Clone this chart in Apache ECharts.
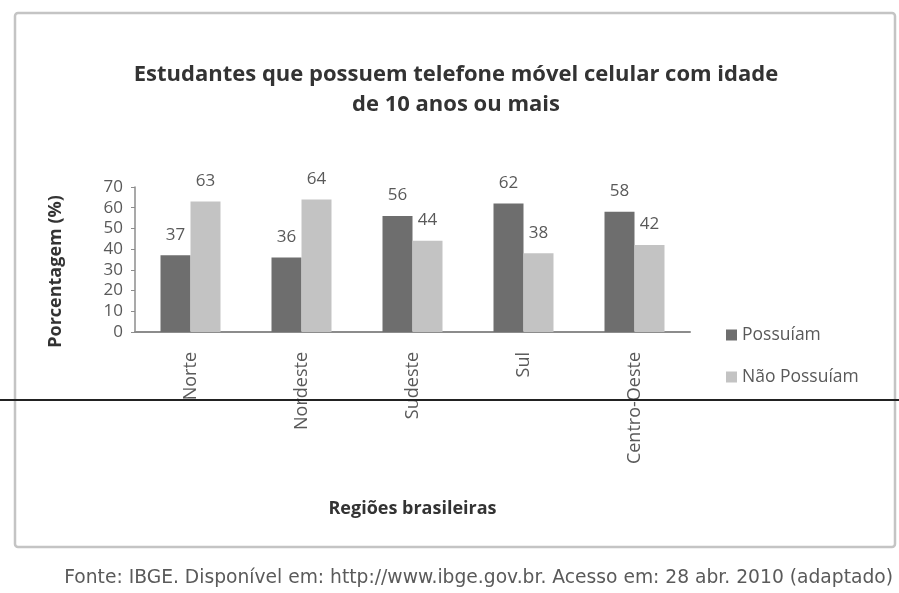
<!DOCTYPE html>
<html>
<head>
<meta charset="utf-8">
<script src="https://cdn.jsdelivr.net/npm/echarts@6/dist/echarts.min.js"></script>
<style>
  html, body { margin: 0; padding: 0; background: #ffffff; }
  #chart { width: 899px; height: 593px; }
</style>
</head>
<body>
<div id="chart"></div>
<script>
// Regions and the share of students (10+ years) with / without a mobile phone
const regioes = ['Norte', 'Nordeste', 'Sudeste', 'Sul', 'Centro-Oeste'];
const possuiam = [37, 36, 56, 62, 58];
const naoPossuiam = [63, 64, 44, 38, 42];
const yTicks = [0, 10, 20, 30, 40, 50, 60, 70];

const FONT = '"Open Sans", Lato, sans-serif';
const labelColor = '#595959';

const chart = echarts.init(document.getElementById('chart'), null, { renderer: 'canvas' });

const barLabel = {
  show: true,
  position: 'top',
  distance: 12,
  color: labelColor,
  fontFamily: FONT,
  fontSize: 17
};

chart.setOption({
  backgroundColor: '#ffffff',
  animation: false,
  title: {
    text: 'Estudantes que possuem telefone móvel celular com idade\nde 10 anos ou mais',
    left: 451,
    top: 55,
    textAlign: 'center',
    textStyle: {
      fontFamily: FONT,
      fontWeight: 'bold',
      fontSize: 22,
      lineHeight: 30,
      color: '#333333'
    }
  },
  legend: {
    orient: 'vertical',
    left: 721,
    top: 321,
    itemWidth: 11,
    itemHeight: 11,
    itemGap: 24,
    icon: 'rect',
    textStyle: { fontFamily: FONT, fontSize: 17.5, color: labelColor },
    data: ['Possuíam', 'Não Possuíam']
  },
  grid: { left: 135, right: 209, top: 187, bottom: 261, containLabel: false },
  xAxis: {
    type: 'category',
    data: regioes,
    name: 'Regiões brasileiras',
    nameLocation: 'middle',
    nameGap: 168,
    nameTextStyle: { fontFamily: FONT, fontWeight: 'bold', fontSize: 18, color: '#333333' },
    axisLine: { lineStyle: { color: '#8c8c8c', width: 2 } },
    axisTick: { show: false },
    axisLabel: {
      rotate: 90,
      margin: 20,
      color: labelColor,
      fontFamily: FONT,
      fontSize: 18
    }
  },
  yAxis: {
    type: 'value',
    min: yTicks[0],
    max: yTicks[yTicks.length - 1],
    interval: yTicks[1] - yTicks[0],
    name: 'Porcentagem (%)',
    nameLocation: 'middle',
    nameGap: 70,
    nameTextStyle: { fontFamily: FONT, fontWeight: 'bold', fontSize: 18, color: '#333333', padding: [0, 24, 0, 0] },
    axisLine: { show: true, lineStyle: { color: '#8c8c8c', width: 1.5 } },
    axisTick: { show: true, length: 4, lineStyle: { color: '#8c8c8c' } },
    splitLine: { show: false },
    axisLabel: {
      margin: 12,
      color: labelColor,
      fontFamily: FONT,
      fontSize: 17
    }
  },
  series: [
    {
      name: 'Possuíam',
      type: 'bar',
      data: possuiam,
      barWidth: 30,
      barGap: '0%',
      itemStyle: { color: '#6e6e6e' },
      label: barLabel
    },
    {
      name: 'Não Possuíam',
      type: 'bar',
      data: naoPossuiam,
      barWidth: 30,
      barGap: '0%',
      itemStyle: { color: '#c3c3c3' },
      label: barLabel
    }
  ],
  graphic: [
    {
      type: 'rect',
      z: -10,
      shape: { x: 15, y: 13, width: 880, height: 534, r: 3 },
      style: { fill: '#ffffff', stroke: '#c4c4c4', lineWidth: 2.5 }
    },
    {
      type: 'text',
      right: 6,
      top: 569,
      style: {
        text: 'Fonte: IBGE. Disponível em: http://www.ibge.gov.br. Acesso em: 28 abr. 2010 (adaptado)',
        font: '18.7px "DejaVu Sans", sans-serif',
        fill: '#5a5a5a'
      }
    },
    {
      type: 'line',
      z: 100,
      shape: { x1: 0, y1: 400, x2: 899, y2: 400 },
      style: { stroke: '#222222', lineWidth: 2 }
    }
  ]
});
</script>
</body>
</html>
